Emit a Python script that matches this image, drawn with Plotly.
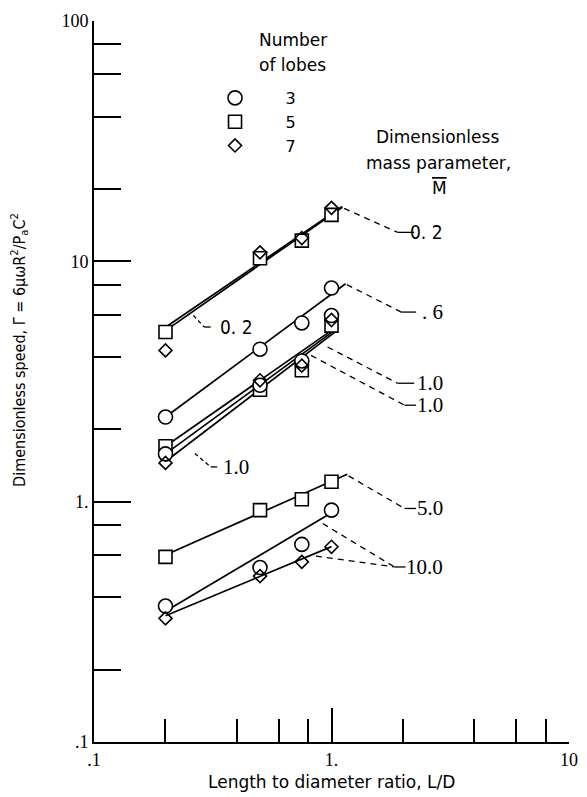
import math
import plotly.graph_objects as go

# ---------------- data ----------------
LD = [0.2, 0.5, 0.75, 1.0]                 # length-to-diameter ratio

# measured dimensionless speed, by mass parameter M and number of lobes
m02_sq = [5.08, 10.3, 12.2, 15.6]          # M = 0.2, 5 lobes
m02_di = [4.26, 10.9, 12.5, 16.7]          # M = 0.2, 7 lobes
m06_ci = [2.25, 4.31, 5.54, 7.74]          # M = 0.6, 3 lobes
m1_ci = [1.58, 3.05, 3.85, 5.95]           # M = 1.0, 3 lobes
m1_sq = [1.70, 2.92, 3.52, 5.40]           # M = 1.0, 5 lobes
m1_di = [1.45, 3.20, 3.68, 5.70]           # M = 1.0, 7 lobes
m5_sq = [0.589, 0.922, 1.024, 1.21]        # M = 5.0, 5 lobes
m10_ci = [0.368, 0.532, 0.664, 0.922]      # M = 10, 3 lobes
m10_di = [0.327, 0.490, 0.562, 0.649]      # M = 10, 7 lobes

# faired lines (end points)
fit02_x = [0.2, 1.11]
fit02a_y = [5.15, 16.8]
fit02b_y = [5.32, 16.9]
fit06_x = [0.2, 1.146]
fit06_y = [2.25, 8.07]
fit1_x = [0.2, 1.04]
fit1sq_y = [1.70, 5.30]
fit1ci_y = [1.58, 5.20]
fit1di_y = [1.47, 5.10]
fit5_x = [0.2, 1.165]
fit5_y = [0.60, 1.30]
fit10_x = [0.2, 1.0]
fit10ci_y = [0.35, 0.90]
fit10di_y = [0.335, 0.65]

# call-out leaders: (x, y, label, label y)
callouts = [
    ([1.13, 1.90, 2.23], [16.6, 13.2, 13.2], "0. 2", 13.2),
    ([1.16, 1.965, 2.27], [8.0, 6.15, 6.15], ". 6", 6.15),
    ([0.963, 1.897, 2.23], [4.40, 3.11, 3.11], "1.0", 3.11),
    ([0.82, 2.03, 2.27], [4.06, 2.52, 2.52], "1.0", 2.52),
    ([1.18, 2.03, 2.27], [1.28, 0.937, 0.937], "5.0", 0.937),
    ([0.918, 1.84, 2.05], [0.811, 0.535, 0.535], "10.0", 0.535),
]
extra_leader_x = [0.86, 1.84]
extra_leader_y = [0.594, 0.535]
label_right_x = 3.0

left_callouts = [
    ([0.262, 0.291, 0.31], [5.96, 5.33, 5.33], "0. 2", 0.333, 5.33),
    ([0.266, 0.31, 0.33], [1.586, 1.395, 1.395], "1.0", 0.342, 1.395),
]

x_major = [0.1, 1, 10]
x_major_text = [".1", "1.", "10"]
x_minor = [0.2, 0.4, 0.6, 0.8, 2, 4, 6, 8]
y_major = [0.1, 1, 10, 100]
y_major_text = [".1", "1.", "10", "100"]
y_minor = [0.2, 0.4, 0.6, 0.8, 2, 4, 6, 8, 20, 40, 60, 80]

# ---------------- figure ----------------
fig = go.Figure()
BLK = "black"

def add_line(x, y, dash="solid", width=1.7):
    fig.add_trace(go.Scatter(x=x, y=y, mode="lines", showlegend=False,
                             hoverinfo="skip",
                             line=dict(color=BLK, width=width, dash=dash)))

for fx, fy in [(fit02_x, fit02a_y), (fit02_x, fit02b_y), (fit06_x, fit06_y),
               (fit1_x, fit1sq_y), (fit1_x, fit1ci_y), (fit1_x, fit1di_y),
               (fit5_x, fit5_y), (fit10_x, fit10ci_y), (fit10_x, fit10di_y)]:
    add_line(fx, fy)

for lx, ly, _, _ in callouts:
    add_line(lx[:2], ly[:2], dash="6px,5px", width=1.3)
    add_line(lx[1:], ly[1:], width=1.3)
add_line(extra_leader_x, extra_leader_y, dash="6px,5px", width=1.3)
for lx, ly, _, _, _ in left_callouts:
    add_line(lx[:2], ly[:2], dash="4px,3px", width=1.3)
    add_line(lx[1:], ly[1:], width=1.3)

sq_y = m02_sq + m1_sq + m5_sq
ci_y = m06_ci + m1_ci + m10_ci
di_y = m02_di + m1_di + m10_di

fig.add_trace(go.Scatter(x=LD * 3, y=sq_y, mode="markers", name="\u00a0" * 6 + "5",
                         legendrank=2,
                         marker=dict(symbol="square", size=13, color="white",
                                     line=dict(color=BLK, width=1.6))))
fig.add_trace(go.Scatter(x=LD * 3, y=ci_y, mode="markers", name="\u00a0" * 6 + "3",
                         legendrank=1,
                         marker=dict(symbol="circle", size=14, color="white",
                                     line=dict(color=BLK, width=1.6))))
fig.add_trace(go.Scatter(x=LD * 3, y=di_y, mode="markers", name="\u00a0" * 6 + "7",
                         legendrank=3,
                         marker=dict(symbol="diamond", size=10, color="rgba(255,255,255,0)",
                                     line=dict(color=BLK, width=1.6))))

ann = []
for lx, ly, txt, yy in callouts:
    fnt = dict(family="DejaVu Sans Condensed, DejaVu Sans", size=19) if txt.startswith("0") else \
        dict(family="Liberation Serif", size=21)
    ann.append(dict(x=math.log10(label_right_x), y=math.log10(yy), xref="x", yref="y",
                    text=txt, showarrow=False, xanchor="right", yanchor="middle", font=fnt))
for lx, ly, txt, tx, ty in left_callouts:
    fnt = dict(family="DejaVu Sans Condensed, DejaVu Sans", size=19) if txt.startswith("0") else \
        dict(family="Liberation Serif", size=21)
    ann.append(dict(x=math.log10(tx), y=math.log10(ty), xref="x", yref="y",
                    text=txt, showarrow=False, xanchor="left", yanchor="middle", font=fnt))

def paper_text(text, x, y, size=17, family="DejaVu Sans", **kw):
    d = dict(text=text, x=x, y=y, xref="paper", yref="paper", showarrow=False,
             xanchor="center", yanchor="middle",
             font=dict(family=family, size=size))
    d.update(kw)
    ann.append(d)

paper_text("Number", 0.4194, 0.9736)
paper_text("of lobes", 0.4174, 0.939)
paper_text("Dimensionless", 0.7231, 0.8391)
paper_text("mass parameter,", 0.7262, 0.803)
paper_text('<span style="text-decoration:overline">M</span>', 0.7273, 0.7684)
paper_text("Dimensionless speed, \u0393 = 6\u03bc\u03c9R<sup>2</sup>/P<sub>a</sub>C<sup>2</sup>",
           -0.157, 0.5444, size=16, family="DejaVu Sans Condensed, DejaVu Sans",
           textangle=-90)
paper_text("Length to diameter ratio, L/D", 0.5, -0.0555, size=17)

fig.update_layout(
    width=587, height=797, autosize=False,
    margin=dict(l=94, r=9, t=21, b=55, pad=0),
    paper_bgcolor="white", plot_bgcolor="white",
    font=dict(family="DejaVu Sans", color=BLK, size=17),
    annotations=ann,
    showlegend=True,
    legend=dict(x=0.2548, y=0.9168, xanchor="left", yanchor="top",
                bgcolor="rgba(0,0,0,0)", font=dict(size=16, family="DejaVu Sans"),
                tracegroupgap=0, itemclick=False),
    xaxis=dict(type="log", range=[-1, 1], showgrid=False, zeroline=False,
               showline=True, linecolor=BLK, linewidth=2,
               tickmode="array", tickvals=x_major, ticktext=x_major_text,
               ticks="inside", ticklen=34, tickwidth=2, tickcolor=BLK,
               tickfont=dict(family="Liberation Serif", size=18),
               minor=dict(tickmode="array", tickvals=x_minor, ticks="inside",
                          ticklen=23, tickwidth=2, tickcolor=BLK, showgrid=False)),
    yaxis=dict(type="log", range=[-1, 2], showgrid=False, zeroline=False,
               showline=True, linecolor=BLK, linewidth=2,
               tickmode="array", tickvals=y_major, ticktext=y_major_text,
               ticks="inside", ticklen=37, tickwidth=2, tickcolor=BLK,
               tickfont=dict(family="Liberation Serif", size=18),
               minor=dict(tickmode="array", tickvals=y_minor, ticks="inside",
                          ticklen=27, tickwidth=2, tickcolor=BLK, showgrid=False)),
)

fig.write_html("out.html")
